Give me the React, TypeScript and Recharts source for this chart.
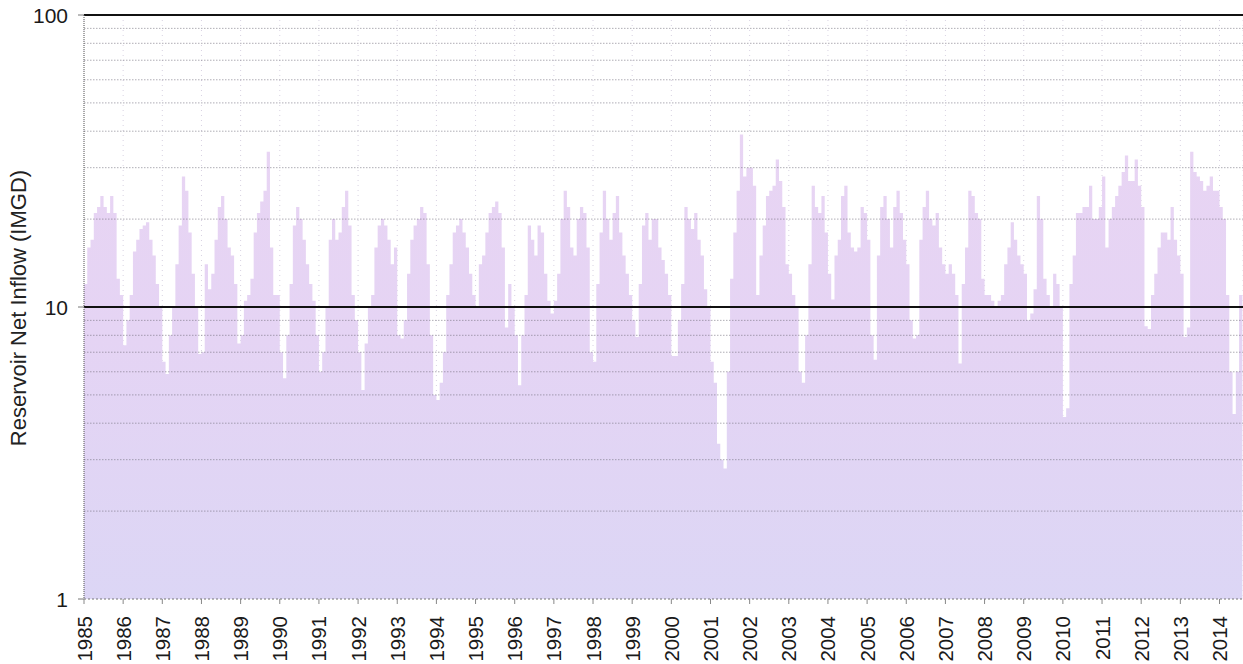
import { AreaChart, Area, XAxis, YAxis, CartesianGrid, ReferenceLine } from 'recharts';

// monthly mean net inflow, Jan..Dec, in IMGD
const inflow1985_1989 = [
  12, 16, 17, 21, 22, 24, 22, 21, 24, 21, 12.5, 11,
  7.4, 9, 11, 15.5, 17, 18.5, 19, 19.5, 17, 15, 12, 10,
  6.5, 5.9, 8, 10, 14, 19, 28, 25, 18, 13, 10, 6.9,
  7, 14, 11.5, 13, 17, 22, 24, 20, 16, 15, 12, 7.5,
  8, 10.5, 11, 12.5, 18, 21, 23, 25, 34, 16, 11, 11,
];
const inflow1990_1994 = [
  7, 5.7, 8, 12, 19, 22, 20, 17, 14, 12, 10.5, 8,
  6, 7, 10, 17, 20, 17, 18, 22, 25, 19, 11, 9,
  7, 5.2, 7.5, 10, 11, 16, 19, 20, 19, 17, 14, 16,
  8, 7.8, 9, 13, 17, 19, 20, 22, 21, 14, 8, 5,
  4.8, 5.5, 7, 11, 14, 18, 19, 20, 18, 16, 13, 11,
];
const inflow1995_1999 = [
  10, 14, 15, 18, 21, 22, 23, 21, 16, 8.5, 12, 10,
  8, 5.4, 8, 11, 19, 17, 15, 19, 18, 13, 10.5, 9.5,
  10.5, 13, 20, 25, 22, 16, 15, 20, 22, 21, 16, 7,
  6.5, 12, 18, 25, 20, 17, 21, 24, 18, 15, 13, 11,
  9, 7.9, 12, 19, 21, 17, 20, 20, 16, 14.5, 13, 11,
];
const inflow2000_2004 = [
  6.8, 6.8, 9, 12, 22, 20, 18.5, 21, 17, 15, 11.5, 10,
  6.5, 5.5, 3.4, 3, 2.8, 6, 12.5, 18, 25, 39, 28, 30,
  30, 26, 11, 15, 19, 24, 25, 26, 32, 27, 22, 14,
  13, 11, 10, 6, 5.5, 8, 14, 26, 22, 21, 24, 18,
  13, 10.6, 15, 17, 24, 26, 18, 16, 15.5, 16, 22, 21,
];
const inflow2005_2009 = [
  17, 8, 6.6, 15, 22, 24, 20, 16, 22, 25, 21, 17,
  14, 9, 7.8, 8, 17, 22, 25, 20, 19, 21, 16, 14,
  13, 14, 13, 11, 6.4, 12, 16, 25, 24, 21, 20, 12.5,
  11, 11, 10.5, 10, 10.5, 11, 14, 16, 19.5, 17, 15, 14,
  13, 9, 9.5, 11.5, 24, 20, 12.5, 11, 10, 13, 12, 10,
];
const inflow2010_2014 = [
  4.2, 4.5, 12, 15, 21, 21, 22, 22, 26, 20, 20, 22,
  28, 16, 20, 22, 24, 26, 29, 33, 27, 27, 32, 26,
  22, 8.6, 8.4, 11, 13, 16, 18, 18, 17, 22, 17, 15,
  13, 7.9, 8.5, 34, 29, 28, 27, 25, 26, 28, 25, 25,
  22, 20, 11, 6, 4.3, 6, 11,
];

const yearTicks = [
  1985, 1986, 1987, 1988, 1989, 1990, 1991, 1992, 1993, 1994,
  1995, 1996, 1997, 1998, 1999, 2000, 2001, 2002, 2003, 2004,
  2005, 2006, 2007, 2008, 2009, 2010, 2011, 2012, 2013, 2014,
];
const logTicks = [1, 2, 3, 4, 5, 6, 7, 8, 9, 10, 20, 30, 40, 50, 60, 70, 80, 90, 100];
const labelledTicks = [1, 10, 100];
const minorLines = [2, 3, 4, 5, 6, 7, 8, 9, 20, 30, 40, 50, 60, 70, 80, 90];

const monthly = [
  ...inflow1985_1989, ...inflow1990_1994, ...inflow1995_1999,
  ...inflow2000_2004, ...inflow2005_2009, ...inflow2010_2014,
];
const series = monthly.map((v, i) => ({ t: 1985 + i / 12, v }));
// close the last month so the step reaches its right edge
series.push({ t: 1985 + monthly.length / 12, v: monthly[monthly.length - 1] });

const FONT = '"Liberation Sans", Arial, sans-serif';

function YTick({ x, y, payload }: any) {
  if (!labelledTicks.includes(payload.value)) return null;
  const axisX = x + 10 + 6;
  return (
    <g>
      <line x1={axisX - 6} x2={axisX} y1={y} y2={y} stroke="#777" />
      <text x={x} y={y} textAnchor="end" dominantBaseline="central" fontSize={21} fontFamily={FONT} fill="#1a1a1a">
        {payload.value}
      </text>
    </g>
  );
}

function XTick({ x, y, payload }: any) {
  return (
    <text
      x={x}
      y={y}
      transform={`rotate(-90 ${x} ${y})`}
      textAnchor="end"
      dominantBaseline="central"
      fontSize={20.5}
      fontFamily={FONT}
      fill="#1a1a1a"
    >
      {payload.value}
    </text>
  );
}

export default function App() {
  return (
    <div style={{ position: 'absolute', left: 0, top: 0, width: 1243, height: 664, background: '#fff' }}>
      <AreaChart width={1243} height={664} data={series} margin={{ top: 15, right: 0, bottom: 5, left: 0 }}>
        <defs>
          <linearGradient id="inflowFill" x1="0" y1="15" x2="0" y2="599" gradientUnits="userSpaceOnUse">
            <stop offset="0%" stopColor="#ead5f3" />
            <stop offset="55%" stopColor="#e5d4f4" />
            <stop offset="100%" stopColor="#dcd6f5" />
          </linearGradient>
        </defs>
        <CartesianGrid horizontal={false} stroke="#d8d2e2" strokeDasharray="1 4" />
        <XAxis
          dataKey="t"
          type="number"
          domain={[1985, 2014.6]}
          ticks={yearTicks}
          allowDataOverflow
          height={60}
          tickSize={5}
          tickMargin={12}
          tick={<XTick />}
          tickLine={{ stroke: '#888' }}
          axisLine={{ stroke: '#777', strokeDasharray: '2 2' }}
          interval={0}
        />
        <YAxis
          scale="log"
          domain={[1, 100]}
          ticks={logTicks}
          allowDataOverflow
          width={84}
          tickSize={6}
          tickMargin={10}
          tickLine={false}
          tick={<YTick />}
          interval={0}
          axisLine={{ stroke: '#555', strokeDasharray: '1 1' }}
        />
        <Area
          type="stepAfter"
          dataKey="v"
          stroke="none"
          fill="url(#inflowFill)"
          fillOpacity={1}
          baseValue={1}
          dot={false}
          activeDot={false}
          isAnimationActive={false}
        />
        {minorLines.map((v) => (
          <ReferenceLine key={v} y={v} stroke="#6e6a78" strokeOpacity={0.55} strokeDasharray="1.5 1.5" />
        ))}
        <ReferenceLine y={10} stroke="#111" strokeWidth={2} />
        <ReferenceLine y={100} stroke="#111" strokeWidth={2} />
      </AreaChart>
      <div
        style={{
          position: 'absolute',
          left: 19,
          top: 308,
          transform: 'translate(-50%, -50%) rotate(-90deg)',
          whiteSpace: 'nowrap',
          fontFamily: FONT,
          fontSize: 22,
          color: '#222',
        }}
      >
        Reservoir Net Inflow (IMGD)
      </div>
    </div>
  );
}
